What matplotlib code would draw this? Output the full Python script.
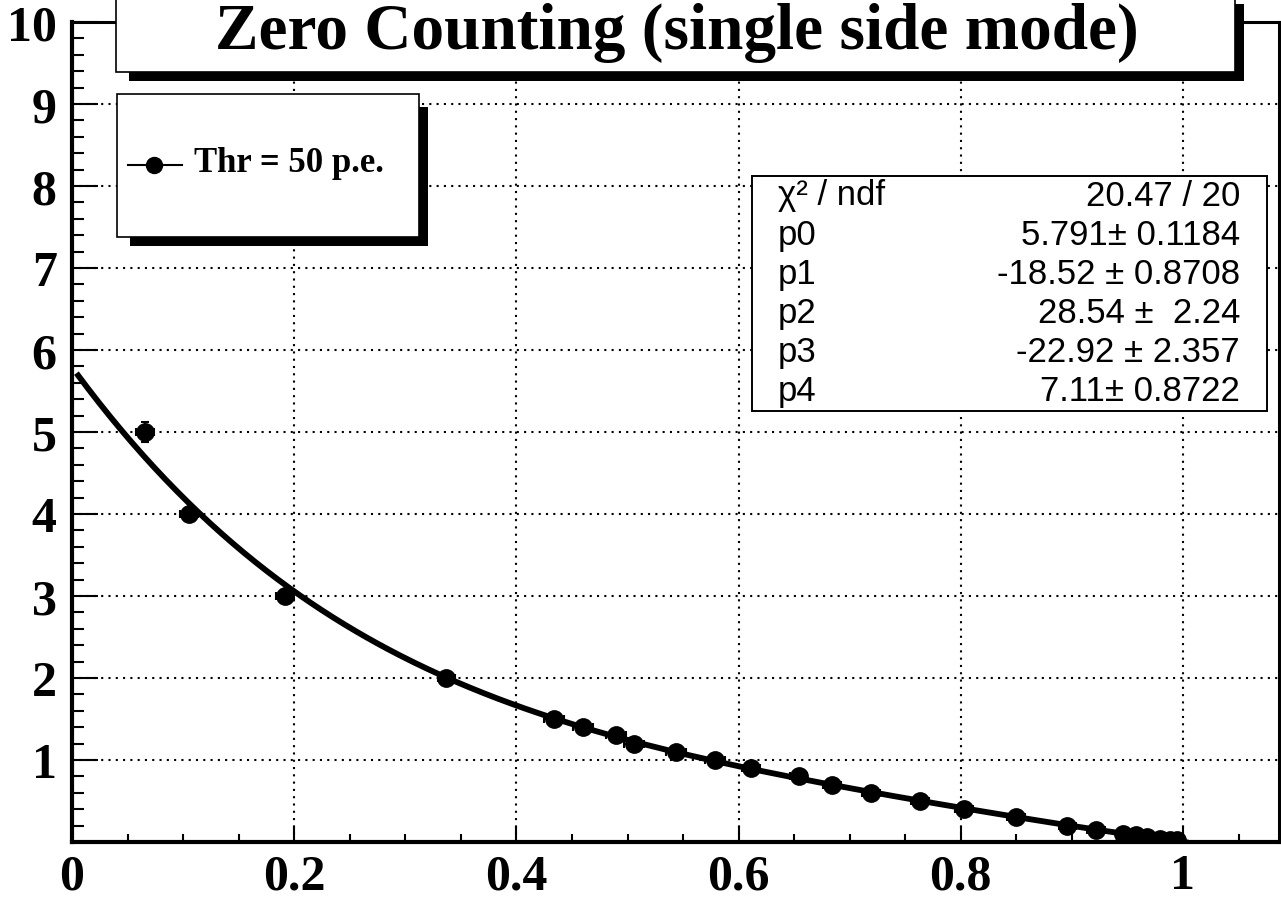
import numpy as np
import matplotlib
matplotlib.use("Agg")
import matplotlib.pyplot as plt
from matplotlib.patches import Rectangle
from matplotlib.lines import Line2D

# ---- data ----
x_vals = [0.066, 0.105, 0.192, 0.337, 0.434, 0.460, 0.490, 0.506, 0.544, 0.579,
          0.611, 0.654, 0.684, 0.719, 0.763, 0.803, 0.850, 0.896, 0.922,
          0.946, 0.958, 0.968, 0.979, 0.988, 0.995]
y_vals = [5.0, 4.0, 3.0, 2.0, 1.5, 1.4, 1.3, 1.2, 1.1, 1.0,
          0.9, 0.8, 0.7, 0.6, 0.5, 0.4, 0.3, 0.2, 0.15,
          0.10, 0.08, 0.06, 0.04, 0.03, 0.02]
x_errs = [0.008, 0.008, 0.008, 0.008, 0.009, 0.009, 0.009, 0.009, 0.009, 0.009,
          0.008, 0.008, 0.008, 0.008, 0.008, 0.008, 0.008, 0.008, 0.008,
          0.006, 0.006, 0.006, 0.006, 0.006, 0.006]
y_errs = [0.12, 0.07, 0.05, 0.03, 0.02, 0.02, 0.02, 0.02, 0.02, 0.02,
          0.02, 0.02, 0.02, 0.02, 0.02, 0.02, 0.02, 0.02, 0.02,
          0.01, 0.01, 0.01, 0.01, 0.01, 0.01]

# fit parameters shown in the stats box (pol4)
fit_params = [5.791, -18.52, 28.54, -22.92, 7.11]
fit_range = [0.004, 1.005]

title_text = "Zero Counting (single side mode)"
legend_label = "Thr = 50 p.e."
stats_labels = ["χ² / ndf", "p0", "p1", "p2", "p3", "p4"]
stats_values = ["20.47 / 20", "5.791± 0.1184", "-18.52 ± 0.8708",
                "28.54 ±  2.24", "-22.92 ± 2.357", "7.11± 0.8722"]

x_ticks = [0, 0.2, 0.4, 0.6, 0.8, 1.0]
x_ticklabels = ["0", "0.2", "0.4", "0.6", "0.8", "1"]
y_ticks = [1, 2, 3, 4, 5, 6, 7, 8, 9, 10]
y_ticklabels = ["1", "2", "3", "4", "5", "6", "7", "8", "9", "10"]

# ---- figure ----
W, H = 1281, 904
fig = plt.figure(figsize=(W / 100, H / 100), dpi=100)

def fx(px):
    return px / W

def fy(py):
    return 1 - py / H

serif = "Liberation Serif"
sans = "Liberation Sans"

ax = fig.add_axes([fx(72), fy(843), fx(1279) - fx(72), fy(23) - fy(843)])
ax.set_xlim(0, (1279 - 72) / 1111)
ax.set_ylim(0, 10)

for s in ["left", "bottom"]:
    ax.spines[s].set_linewidth(3.0)
for s in ["top", "right"]:
    ax.spines[s].set_linewidth(2.2)

ax.set_xticks(x_ticks)
ax.set_xticklabels(x_ticklabels)
ax.set_yticks(y_ticks)
ax.set_yticklabels(y_ticklabels)
ax.set_xticks(np.arange(0.05, 1.08, 0.05), minor=True)
ax.set_yticks(np.arange(0.2, 10.0, 0.2), minor=True)

ax.tick_params(axis="y", which="major", direction="in", length=18.5, width=1.5,
               pad=11, labelsize=36)
ax.tick_params(axis="y", which="minor", direction="in", length=8.5, width=1.5)
ax.tick_params(axis="x", which="major", direction="in", length=11.5, width=1.5,
               pad=8, labelsize=36)
ax.tick_params(axis="x", which="minor", direction="in", length=5.8, width=1.5)
for lab in ax.get_xticklabels() + ax.get_yticklabels():
    lab.set_fontfamily(serif)
    lab.set_fontweight("bold")

ax.grid(True, which="major", color="black", linestyle=(0, (1, 2.5)), linewidth=1.5)

ax.errorbar(x_vals, y_vals, xerr=x_errs, yerr=y_errs, fmt="o", color="black",
            ms=12.5, elinewidth=1.5, capsize=3, capthick=1.5, zorder=4)

xf = np.linspace(fit_range[0], fit_range[1], 400)
yf = np.polyval(fit_params[::-1], xf)
ax.plot(xf, yf, color="black", lw=4.2, zorder=5, solid_capstyle="butt")

# ---- title box with shadow ----
def box(x0, y0, x1, y1, fc, ec, lw):
    r = Rectangle((fx(x0), fy(y1)), fx(x1) - fx(x0), fy(y0) - fy(y1),
                  transform=fig.transFigure, facecolor=fc, edgecolor=ec,
                  linewidth=lw, zorder=10)
    fig.add_artist(r)

box(129, 5, 1244, 82, "black", "black", 0)
box(116, -10, 1235, 73, "white", "black", 1.2)
fig.text(fx(677), fy(49), title_text, ha="center", va="baseline",
         fontsize=47, fontweight="bold", family=serif, zorder=11)

# ---- legend box with shadow ----
box(130, 108, 428, 247, "black", "black", 0)
box(117, 95, 419, 238, "white", "black", 1.2)
fig.add_artist(Line2D([fx(128), fx(182)], [fy(166), fy(166)],
                      transform=fig.transFigure, color="black", lw=1.5, zorder=11))
fig.add_artist(Line2D([fx(154)], [fy(166)], transform=fig.transFigure,
                      marker="o", ms=11.5, color="black", zorder=12))
fig.text(fx(194), fy(164), legend_label, ha="left", va="center",
         fontsize=25, fontweight="bold", family=serif, zorder=11)

# ---- stats box ----
box(752, 177, 1267, 412, "white", "black", 1.4)
for i, (lab, val) in enumerate(zip(stats_labels, stats_values)):
    yc = 196 + 39.2 * i
    fig.text(fx(778), fy(yc), lab, ha="left", va="center", fontsize=25,
             family=sans, zorder=11)
    fig.text(fx(1240), fy(yc), val, ha="right", va="center", fontsize=25,
             family=sans, zorder=11)

fig.savefig("out.png", dpi=100)
